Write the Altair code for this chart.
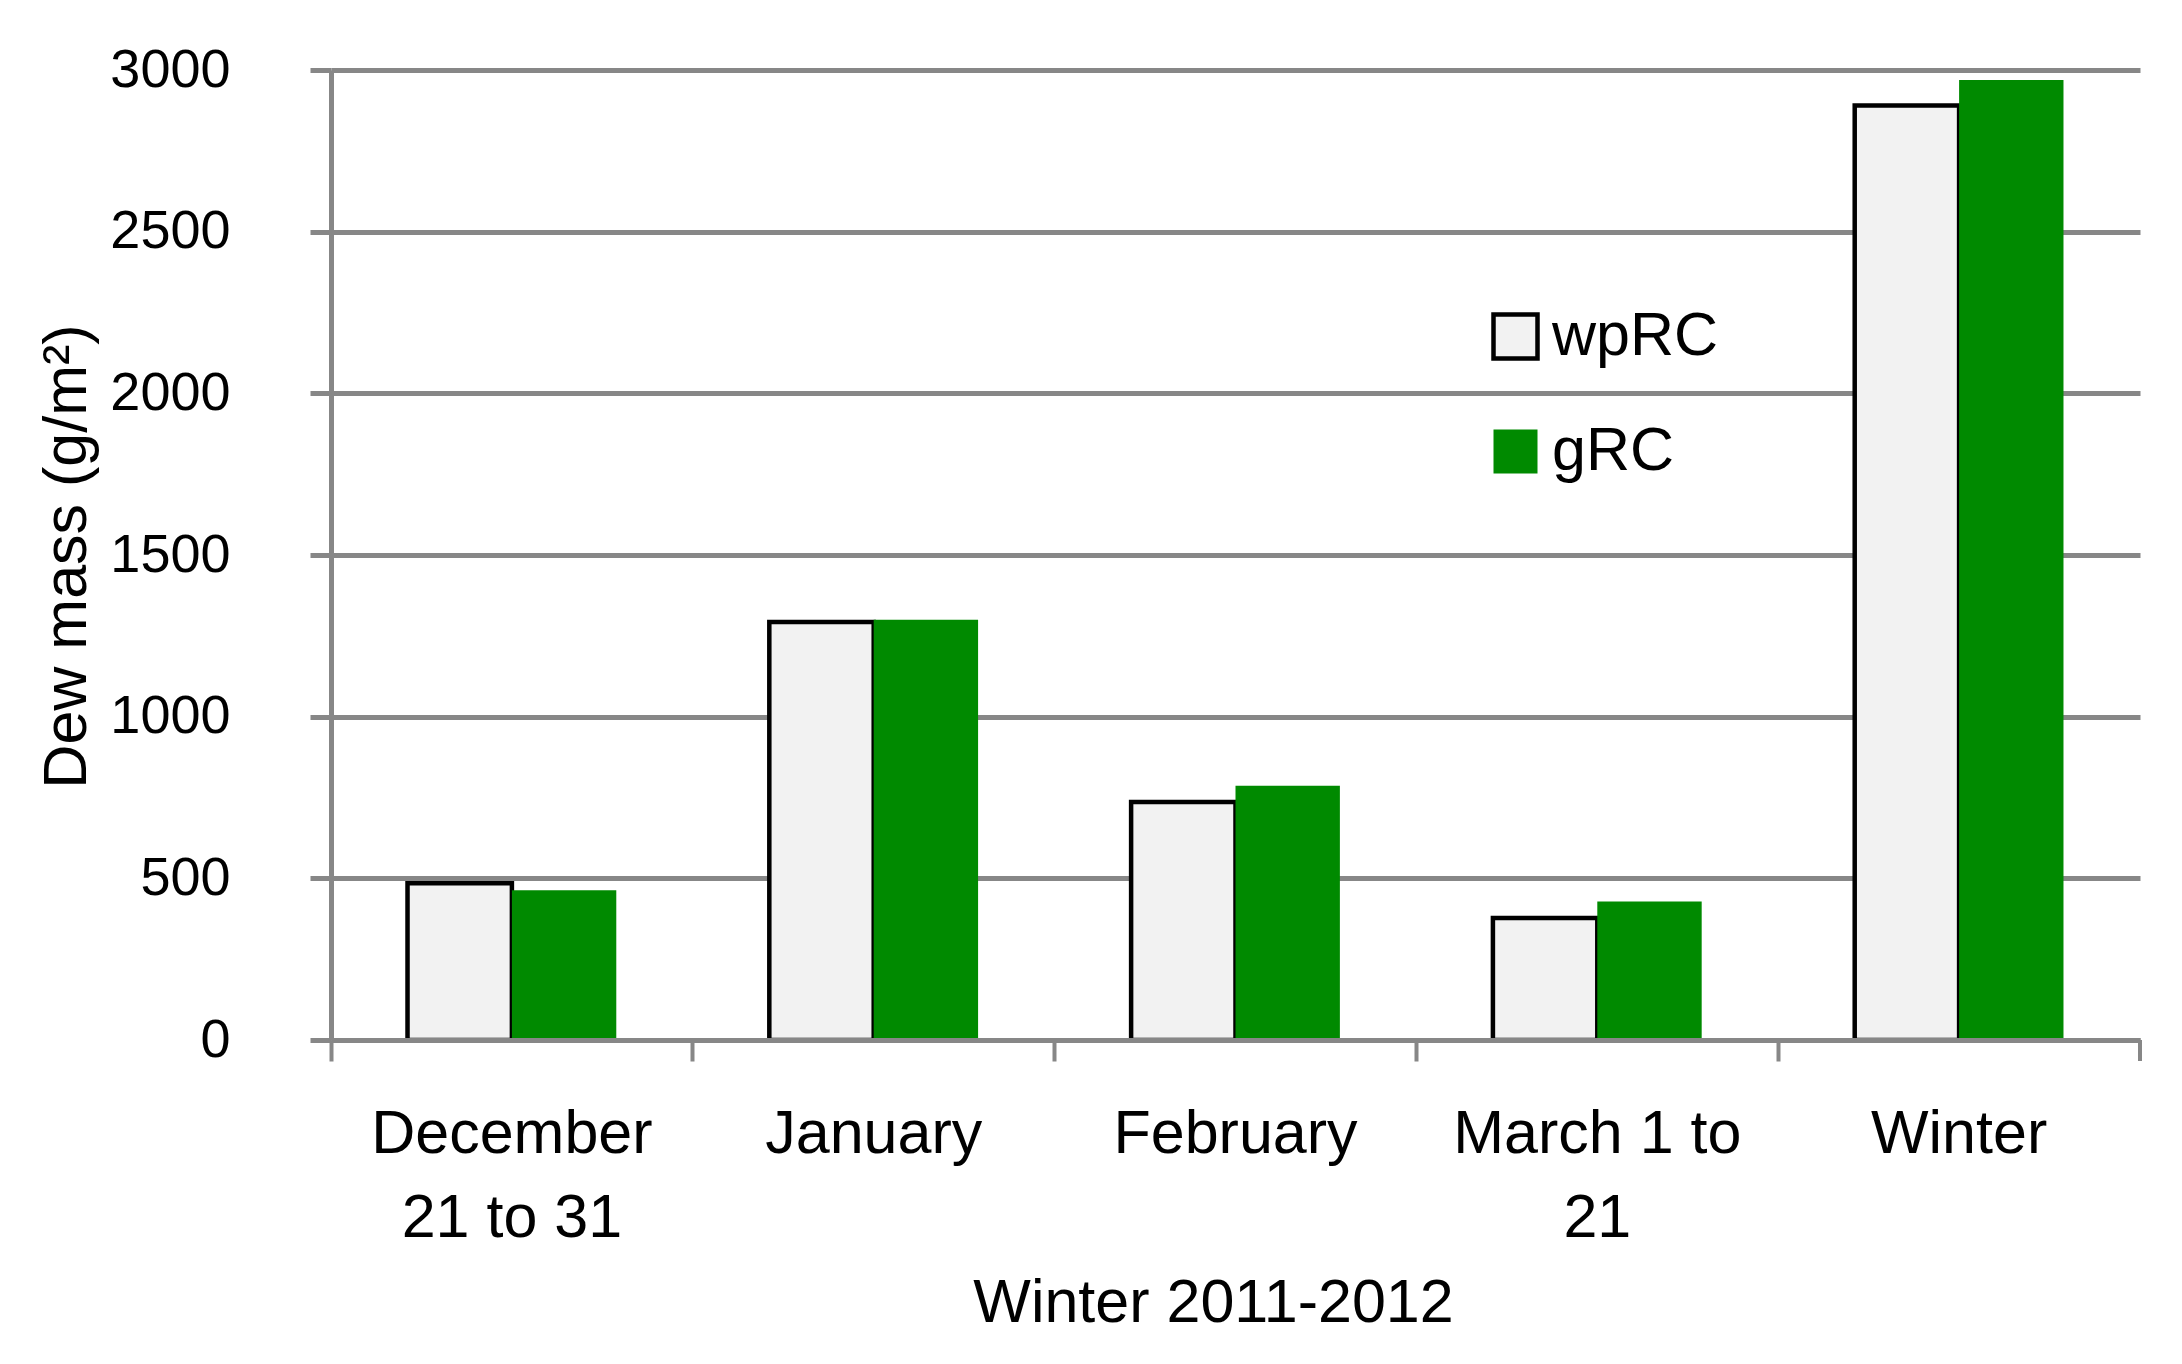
import altair as alt
import pandas as pd

categories = ["December 21 to 31", "January", "February", "March 1 to 21", "Winter"]
series = ["wpRC", "gRC"]
wprc = [485, 1293, 736, 377, 2890]
grc = [463, 1300, 786, 428, 2969]
y_ticks = [0, 500, 1000, 1500, 2000, 2500, 3000]

rows = []
for c, a, b in zip(categories, wprc, grc):
    rows.append({"period": c, "series": "wpRC", "value": a})
    rows.append({"period": c, "series": "gRC", "value": b})
df = pd.DataFrame(rows)

W, H = 1809, 970
GRAY = "#878787"
FONT = "'Liberation Sans', Arial, sans-serif"
FS = 61

label_expr = (
    "datum.label == 'December 21 to 31' ? ['December', '21 to 31'] : "
    "datum.label == 'March 1 to 21' ? ['March 1 to', '21'] : datum.label"
)

bars = alt.Chart(df).mark_bar(strokeWidth=4.5).encode(
    x=alt.X(
        "period:N",
        sort=categories,
        scale=alt.Scale(paddingInner=0, paddingOuter=0),
        axis=alt.Axis(
            title="Winter 2011-2012",
            bandPosition=0,
            labelExpr=label_expr,
            labelAngle=0,
            labelLimit=0,
            labelFlush=False,
            labelBaseline="alphabetic",
            labelLineHeight=84,
            labelPadding=91,
            tickSize=21,
            tickWidth=4,
            tickColor=GRAY,
            domainColor=GRAY,
            domainWidth=5,
            titleBaseline="alphabetic",
            titleX=882,
            titleY=281,
            zindex=1,
        ),
    ),
    xOffset=alt.XOffset(
        "series:N", sort=series,
        scale=alt.Scale(domain=series, paddingInner=0, paddingOuter=0.733),
    ),
    y=alt.Y(
        "value:Q",
        scale=alt.Scale(domain=[0, 3000], nice=False),
        axis=alt.Axis(
            values=y_ticks,
            format="d",
            title="Dew mass (g/m²)",
            grid=True,
            gridColor=GRAY,
            gridWidth=5,
            tickSize=21,
            tickWidth=5,
            tickColor=GRAY,
            domainColor=GRAY,
            domainWidth=5,
            labelFontSize=54,
            labelPadding=80,
            labelLimit=0,
            titleX=-264,
            titleY=486,
            titleAlign="center",
            titleBaseline="middle",
        ),
    ),
    fill=alt.Fill(
        "series:N",
        scale=alt.Scale(domain=series, range=["#F2F2F2", "#008A00"]),
        legend=alt.Legend(title=None),
    ),
    stroke=alt.Stroke(
        "series:N",
        scale=alt.Scale(domain=series, range=["#000000", "transparent"]),
        legend=alt.Legend(title=None),
    ),
)

end_tick = alt.Chart(pd.DataFrame({"k": [0]})).mark_rule(
    color=GRAY, strokeWidth=4
).encode(x=alt.value(W), y=alt.value(H), y2=alt.value(H + 21))

chart = (
    alt.layer(bars, end_tick)
    .properties(
        width=W,
        height=H,
        autosize=alt.AutoSizeParams(type="none"),
        padding={"left": 323, "top": 62, "right": 20, "bottom": 300},
    )
    .configure_view(stroke=None)
    .configure_axis(
        labelFont=FONT,
        titleFont=FONT,
        labelFontSize=FS,
        titleFontSize=FS,
        labelColor="#000000",
        titleColor="#000000",
        titleFontWeight="normal",
    )
    .configure_legend(
        orient="none",
        legendX=1154,
        legendY=236,
        padding=0,
        labelFont=FONT,
        labelFontSize=FS,
        labelColor="#000000",
        labelLimit=0,
        symbolType="square",
        symbolSize=1936,
        symbolStrokeWidth=4.5,
        symbolOpacity=1,
        labelOffset=6,
        rowPadding=52,
    )
)

chart.save("out.html", embed_options={"renderer": "svg", "actions": False})
